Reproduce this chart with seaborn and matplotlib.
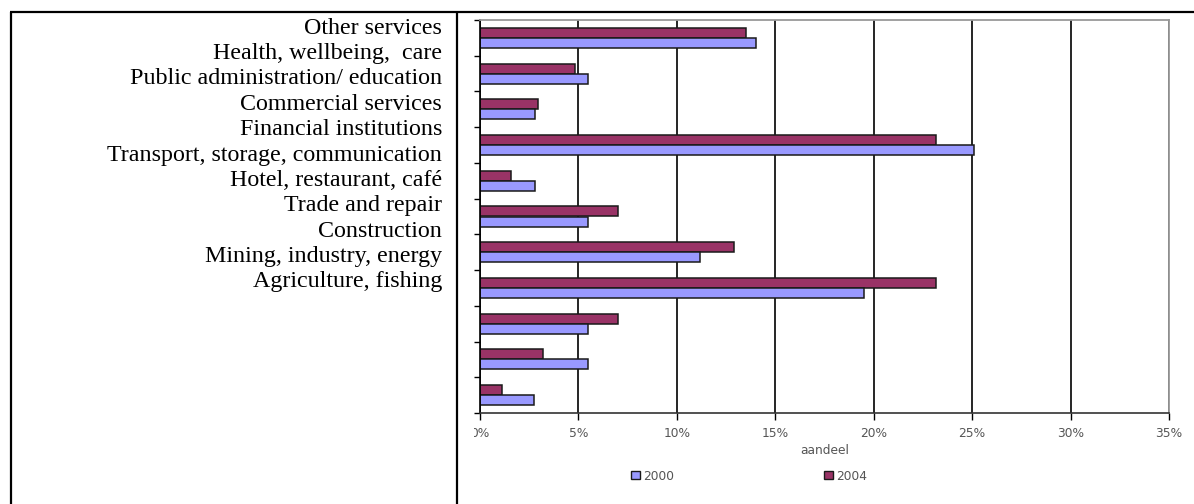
import matplotlib
matplotlib.use("Agg")
import matplotlib.pyplot as plt
from matplotlib.lines import Line2D
from matplotlib.patches import Patch
from matplotlib.transforms import Bbox
from matplotlib.ticker import FuncFormatter
import numpy as np
import pandas as pd
import seaborn as sns

# Employment share per sector (%), listed top to bottom
sectors = [
    "Other services",
    "Health, wellbeing,  care",
    "Public administration/ education",
    "Commercial services",
    "Financial institutions",
    "Transport, storage, communication",
    "Hotel, restaurant, café",
    "Trade and repair",
    "Construction",
    "Mining, industry, energy",
    "Agriculture, fishing",
]
share_2000 = [14.0, 5.5, 2.8, 25.1, 2.8, 5.5, 11.2, 19.5, 5.5, 5.5, 2.75]
share_2004 = [13.5, 4.85, 2.95, 23.15, 1.55, 7.0, 12.9, 23.15, 7.0, 3.2, 1.1]
years = ["2000", "2004"]
x_ticks = [0, 5, 10, 15, 20, 25, 30, 35]

df = pd.DataFrame({
    "sector": sectors * 2,
    "year": [years[0]] * len(sectors) + [years[1]] * len(sectors),
    "share": share_2000 + share_2004,
})

colors = {"2000": "#9999FF", "2004": "#993366"}

sns.set_style("white")
plt.rcParams["font.family"] = ["DejaVu Sans"]

W, H = 1194, 504
fig = plt.figure(figsize=(W / 100, H / 100), dpi=100)

# table-like frame around the label cell and the chart cell
frame_kw = dict(color="black", lw=1.6, solid_capstyle="butt")
fig.add_artist(Line2D([10 / W, 1.0], [1 - 12 / H, 1 - 12 / H], transform=fig.transFigure, **frame_kw))
fig.add_artist(Line2D([10.5 / W, 10.5 / W], [0, 1 - 12 / H], transform=fig.transFigure, **frame_kw))
fig.add_artist(Line2D([456.5 / W, 456.5 / W], [0, 1 - 12 / H], transform=fig.transFigure, **frame_kw))

# sector names in the left cell
for i, name in enumerate(sectors):
    fig.text(442 / W, 1 - (33.5 + 25.4 * i) / H, name, ha="right", va="baseline",
             family=["Liberation Serif", "DejaVu Serif"], fontsize=17.3, color="black")

ax = fig.add_axes([480 / W, 1 - 413 / H, 689 / W, 393 / H])
sns.barplot(data=df, y="sector", x="share", hue="year", hue_order=["2004", "2000"],
            palette=colors, orient="h", width=0.56, edgecolor="#1a1a1a", linewidth=1.1,
            ax=ax, legend=False, errorbar=None, saturation=1)

n = len(sectors)
ax.set_ylim(n - 0.5, -0.5)
ax.set_yticks(np.arange(-0.5, n, 1.0))
ax.set_yticklabels([])
ax.set_ylabel("")
ax.tick_params(axis="y", left=True, length=4, width=1, color="black", direction="out")

ax.set_xlim(0, 35)
ax.set_xticks(x_ticks)
ax.xaxis.set_major_formatter(FuncFormatter(lambda v, p: f"{v:.0f}%"))
ax.tick_params(axis="x", bottom=True, length=5, width=1, color="black", direction="out",
               pad=5, labelsize=8.8, labelcolor="#555555")
ax.set_xlabel("aandeel", fontsize=8.8, color="#555555", labelpad=3)

ax.set_axisbelow(True)
ax.xaxis.grid(True, color="black", lw=1.2)
ax.yaxis.grid(False)
for side in ["top", "right"]:
    ax.spines[side].set_color("#999999")
    ax.spines[side].set_linewidth(1.3)
ax.spines["left"].set_color("black")
ax.spines["left"].set_linewidth(1.2)
ax.spines["bottom"].set_color("#333333")
ax.spines["bottom"].set_linewidth(1.2)

handles = [Patch(facecolor=colors[y], edgecolor="#1a1a1a", lw=1.0, label=y) for y in years]
leg = ax.legend(handles=handles, loc="center", bbox_to_anchor=(749 / W, 1 - 476 / H),
                bbox_transform=fig.transFigure, ncol=2, frameon=False, fontsize=8.8,
                handlelength=0.72, handleheight=0.55, handletextpad=0.25, columnspacing=12.3,
                labelcolor="#555555")

# the chart area cuts off the left edge of the first tick label
fig.canvas.draw()
first = ax.get_xticklabels()[0]
first.set_clip_box(Bbox([[474, 0], [W, H]]))
first.set_clip_on(True)

fig.savefig("out.png", dpi=100)
